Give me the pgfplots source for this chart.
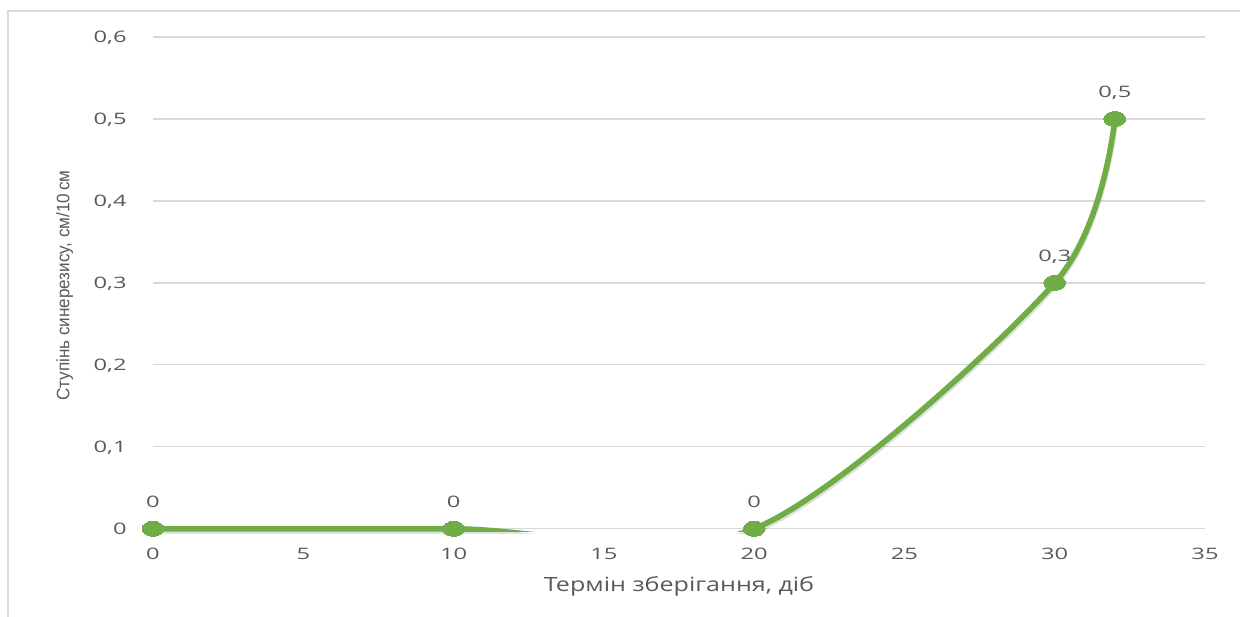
\documentclass[border=0pt]{standalone}
\usepackage{pgfplots}
\pgfplotsset{compat=1.18}
\usepackage{fontspec}
\setmainfont{Open Sans}
\newfontfamily\tickfont[FakeStretch=1.5]{Open Sans}
\newfontfamily\xlabfont[FakeStretch=1.28]{Open Sans}
\newfontfamily\ylabfont[FakeStretch=0.95]{Liberation Sans}
\definecolor{linegreen}{HTML}{70AD47}
\definecolor{gridgray}{HTML}{D9D9D9}
\definecolor{textgray}{HTML}{595959}
\begin{document}
\begin{tikzpicture}
\useasboundingbox (0,0) rectangle (620pt,308pt);
\draw[gridgray, line width=1pt] (4pt,-5pt) -- (4pt,302.5pt) -- (640pt,302.5pt);
\begin{axis}[
  at={(76.5pt,42.35pt)}, anchor=south west,
  scale only axis, width=526pt, height=247.15pt,
  xmin=0, xmax=35, ymin=-0.003, ymax=0.6,
  xtick={0,5,10,15,20,25,30,35},
  ytick={0,0.1,0.2,0.3,0.4,0.5,0.6},
  ymajorgrids, grid style={gridgray, line width=0.6pt},
  axis line style={draw=none},
  major tick length=0pt,
  /pgf/number format/.cd, use comma, fixed, precision=1, assume math mode=true,
  /pgfplots/.cd,
  ticklabel style={font=\fontsize{7.9}{9}\tickfont, text=textgray, inner sep=0pt},
  yticklabel style={anchor=base east, xshift=-13pt, yshift=-3pt},
  xticklabel style={anchor=base, yshift=-13.9pt},
  xlabel={Термін зберігання, діб},
  xlabel style={at={(axis description cs:0.5,0)}, anchor=base, yshift=-30pt, inner sep=0pt, font=\fontsize{9.8}{11}\xlabfont, text=textgray},
  ylabel={Ступінь синерезису, см/10\,см},
  ylabel style={at={(axis description cs:-0.07956,0.497)}, anchor=base, inner sep=0pt, font=\fontsize{9}{10}\ylabfont, text=textgray},
  clip mode=individual,
]
\addplot[smooth, line width=3.2pt, color=black, opacity=0.12, yshift=-1.2pt, forget plot]
  coordinates {(0,0) (10,0) (20,0) (30,0.3) (32,0.5)};
\addplot[smooth, line width=2.8pt, color=linegreen, mark=*, mark size=3.75pt,
  mark options={xscale=1.45, fill=linegreen, draw=linegreen, line width=0pt},
  nodes near coords,
  every node near coord/.append style={anchor=base, inner sep=0pt, yshift=10.85pt, font=\fontsize{7.9}{9}\tickfont, text=textgray}]
  coordinates {(0,0) (10,0) (20,0) (30,0.3) (32,0.5)};
\end{axis}
\end{tikzpicture}
\end{document}
